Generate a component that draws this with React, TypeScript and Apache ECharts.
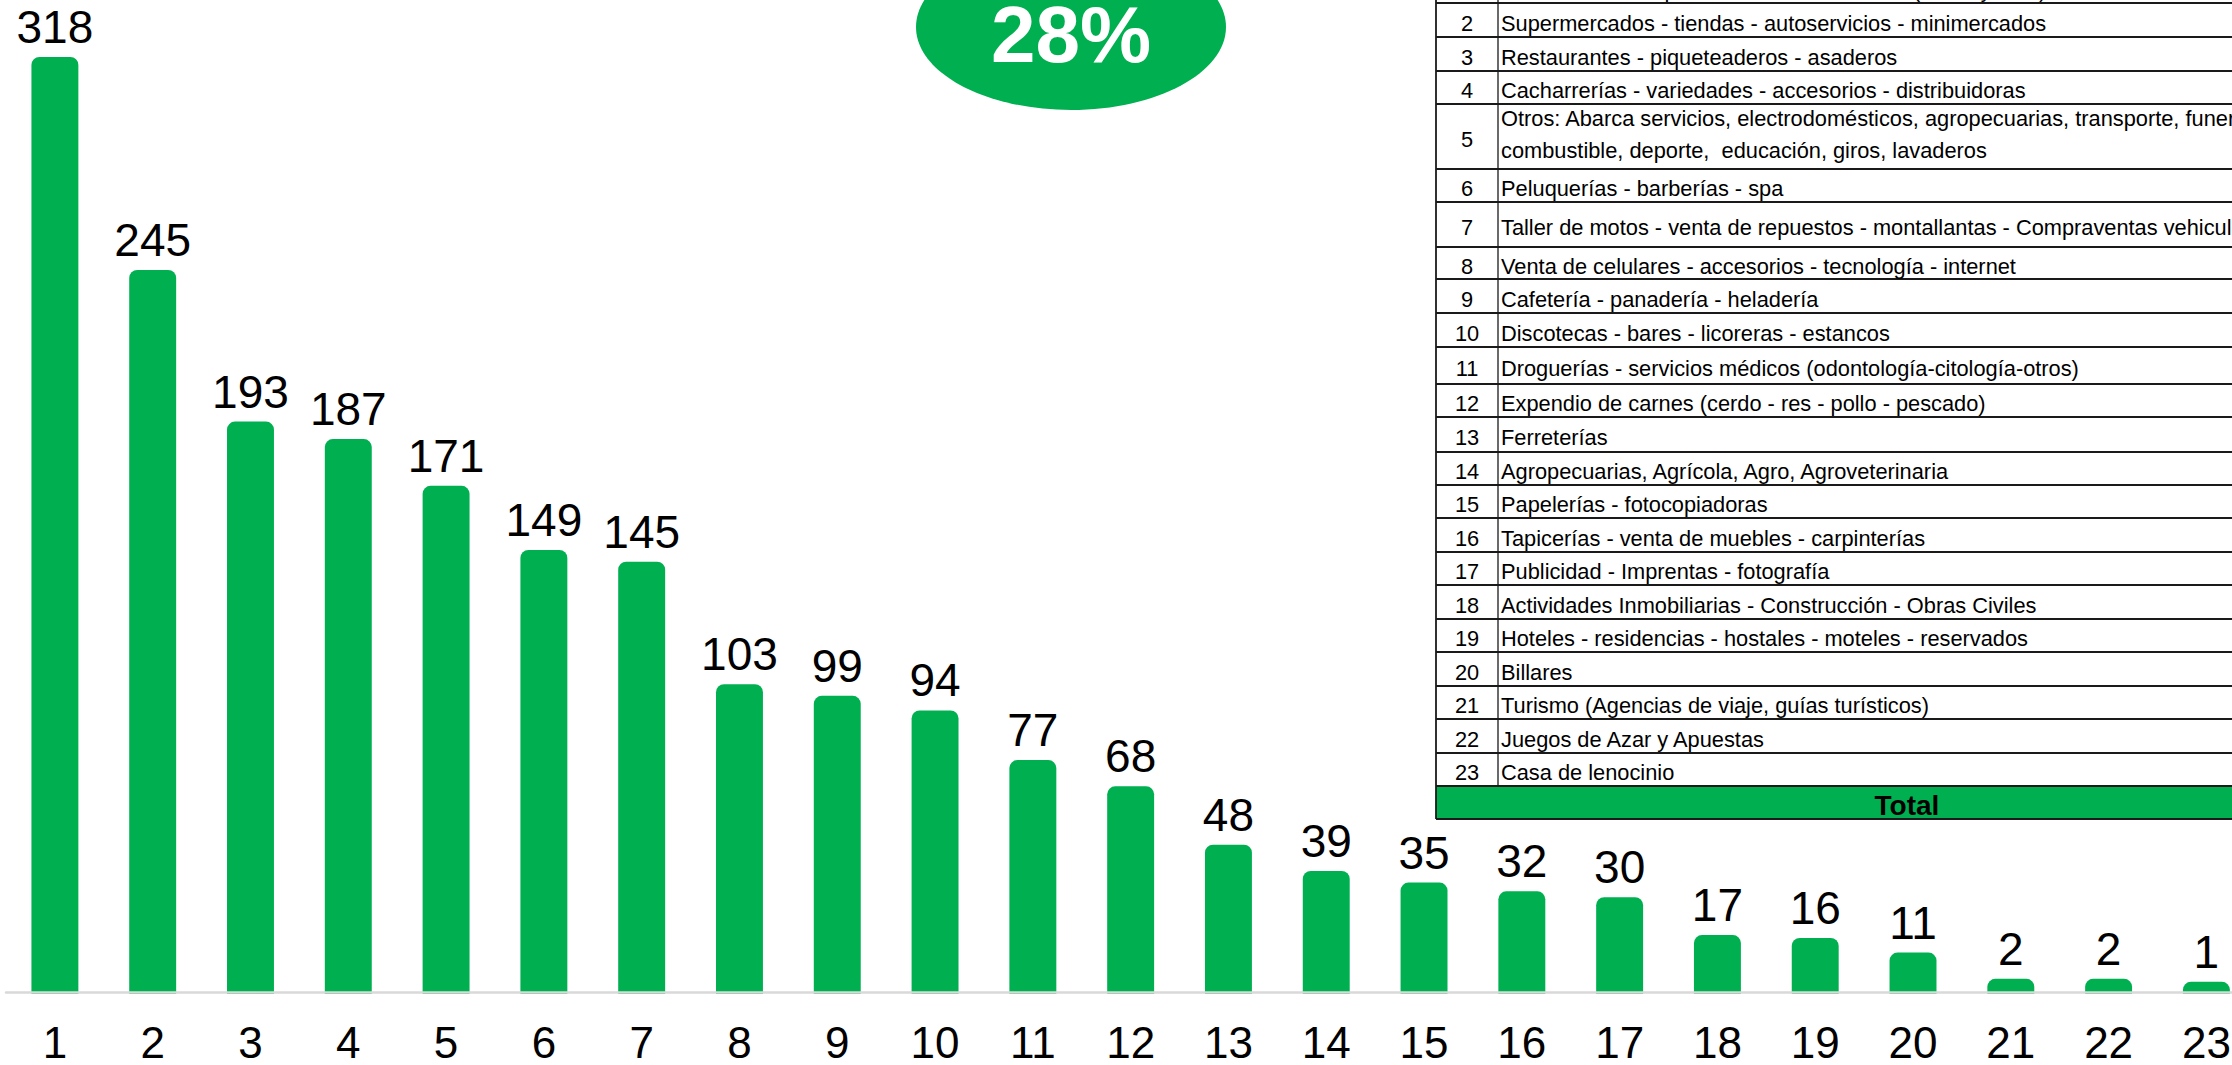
import React, { useEffect, useRef } from "react";
import * as echarts from "echarts";

// ---------- data ----------
const categories: string[] = [
  "1", "2", "3", "4", "5", "6", "7", "8", "9", "10", "11", "12",
  "13", "14", "15", "16", "17", "18", "19", "20", "21", "22", "23",
];
const counts: number[] = [
  318, 245, 193, 187, 171, 149, 145, 103, 99, 94, 77, 68,
  48, 39, 35, 32, 30, 17, 16, 11, 2, 2, 1,
];
const descriptions: string[] = [
  "Almacenes de ropa - calzado - accesorios (dama y niño)",
  "Supermercados - tiendas - autoservicios - minimercados",
  "Restaurantes - piqueteaderos - asaderos",
  "Cacharrerías - variedades - accesorios - distribuidoras",
  "Otros: Abarca servicios, electrodomésticos, agropecuarias, transporte, funerarias,\ncombustible, deporte,  educación, giros, lavaderos",
  "Peluquerías - barberías - spa",
  "Taller de motos - venta de repuestos - montallantas - Compraventas vehiculos",
  "Venta de celulares - accesorios - tecnología - internet",
  "Cafetería - panadería - heladería",
  "Discotecas - bares - licoreras - estancos",
  "Droguerías - servicios médicos (odontología-citología-otros)",
  "Expendio de carnes (cerdo - res - pollo - pescado)",
  "Ferreterías",
  "Agropecuarias, Agrícola, Agro, Agroveterinaria",
  "Papelerías - fotocopiadoras",
  "Tapicerías - venta de muebles - carpinterías",
  "Publicidad - Imprentas - fotografía",
  "Actividades Inmobiliarias - Construcción - Obras Civiles",
  "Hoteles - residencias - hostales - moteles - reservados",
  "Billares",
  "Turismo (Agencias de viaje, guías turísticos)",
  "Juegos de Azar y Apuestas",
  "Casa de lenocinio",
];
const totalLabel = "Total";
const highlightText = "28%";

// ---------- layout / style ----------
const GREEN = "#00B050";
const FONT = "'Liberation Sans', Arial, Helvetica, sans-serif";
const Y_MIN = -2.5;
const Y_MAX = 337.5;
// table row boundaries (pixels): 23 rows + total row
const ROW_EDGES = [
  -31, 3, 37, 71, 104, 169, 202, 247, 279, 313, 347, 384, 417, 452, 485,
  518, 552, 585, 619, 652, 686, 719, 753, 786, 819,
];
const T_LEFT = 1436;
const T_DIV = 1498;
const T_RIGHT = 2420;

function buildTable(): any[] {
  const els: any[] = [];
  const top = ROW_EDGES[0];
  const bottom = ROW_EDGES[ROW_EDGES.length - 1];
  const totalTop = ROW_EDGES[ROW_EDGES.length - 2];
  els.push({
    type: "rect",
    z: 20,
    shape: { x: T_LEFT, y: top, width: T_RIGHT - T_LEFT, height: bottom - top },
    style: { fill: "#ffffff" },
  });
  els.push({
    type: "rect",
    z: 21,
    shape: { x: T_LEFT, y: totalTop, width: T_RIGHT - T_LEFT, height: bottom - totalTop },
    style: { fill: GREEN },
  });
  ROW_EDGES.forEach((y) => {
    els.push({
      type: "line",
      z: 22,
      shape: { x1: T_LEFT, y1: y, x2: T_RIGHT, y2: y },
      style: { stroke: "#1a1a1a", lineWidth: 1.8 },
    });
  });
  els.push({
    type: "line",
    z: 22,
    shape: { x1: T_LEFT, y1: top, x2: T_LEFT, y2: bottom },
    style: { stroke: "#1a1a1a", lineWidth: 1.8 },
  });
  els.push({
    type: "line",
    z: 22,
    shape: { x1: T_DIV, y1: top, x2: T_DIV, y2: totalTop },
    style: { stroke: "#1a1a1a", lineWidth: 1.3 },
  });
  descriptions.forEach((d, i) => {
    const center = (ROW_EDGES[i] + ROW_EDGES[i + 1]) / 2;
    const multi = d.indexOf("\n") >= 0;
    const textY = multi ? center - 2 : center + 3;
    els.push({
      type: "text",
      z: 23,
      x: (T_LEFT + T_DIV) / 2,
      y: center + 3,
      style: {
        text: categories[i],
        fontSize: 21.8,
        fontFamily: FONT,
        fill: "#000",
        textAlign: "center",
        textVerticalAlign: "middle",
      },
    });
    els.push({
      type: "text",
      z: 23,
      x: T_DIV + 3,
      y: textY,
      style: {
        text: d,
        fontSize: 21.8,
        fontFamily: FONT,
        lineHeight: 32.5,
        fill: "#000",
        textAlign: "left",
        textVerticalAlign: "middle",
      },
    });
  });
  els.push({
    type: "text",
    z: 23,
    x: 1907,
    y: (totalTop + bottom) / 2 + 3,
    style: {
      text: totalLabel,
      fontSize: 28,
      fontWeight: "bold",
      fontFamily: FONT,
      fill: "#000",
      textAlign: "center",
      textVerticalAlign: "middle",
    },
  });
  return els;
}

export default function App() {
  const ref = useRef<HTMLDivElement>(null);
  useEffect(() => {
    if (!ref.current) return;
    const chart = echarts.init(ref.current, undefined, { renderer: "svg" });
    const option: any = {
      animation: false,
      backgroundColor: "#ffffff",
      grid: {
        left: 6,
        right: -23.3,
        top: 0,
        bottom: 73,
        containLabel: false,
        outerBoundsMode: "none",
      },
      xAxis: {
        type: "category",
        data: categories,
        axisLine: { onZero: false, lineStyle: { color: "#d9d9d9", width: 2.5 } },
        axisTick: { show: false },
        axisLabel: {
          fontSize: 44,
          lineHeight: 34,
          verticalAlign: "middle",
          margin: 50,
          color: "#000",
          fontFamily: FONT,
          interval: 0,
        },
        z: 5,
      },
      yAxis: {
        type: "value",
        min: Y_MIN,
        max: Y_MAX,
        show: false,
        splitLine: { show: false },
      },
      series: [
        {
          type: "custom",
          clip: false,
          data: counts.map((v, i) => [i, v]),
          renderItem: (params: any, api: any) => {
            const x = api.value(0);
            const v = api.value(1);
            const topPt = api.coord([x, v]);
            const basePt = api.coord([x, Y_MIN]);
            const w = api.size([1, 0])[0] * 0.48;
            return {
              type: "group",
              children: [
                {
                  type: "rect",
                  shape: {
                    x: topPt[0] - w / 2,
                    y: topPt[1],
                    width: w,
                    height: basePt[1] - topPt[1] + 2,
                    r: [8, 8, 0, 0],
                  },
                  style: { fill: GREEN },
                },
                {
                  type: "text",
                  x: topPt[0],
                  y: topPt[1] - 7,
                  style: {
                    text: String(v),
                    fontSize: 46,
                    fontFamily: FONT,
                    fill: "#000",
                    align: "center",
                    verticalAlign: "bottom",
                  },
                },
              ],
            };
          },
        },
      ],
      graphic: [
        {
          type: "ellipse",
          z: 10,
          shape: { cx: 1071, cy: 27, rx: 155, ry: 83 },
          style: { fill: GREEN },
        },
        {
          type: "text",
          z: 11,
          x: 1071,
          y: 34,
          style: {
            text: highlightText,
            fontSize: 80,
            lineHeight: 64,
            fontWeight: "bold",
            fontFamily: FONT,
            fill: "#ffffff",
            textAlign: "center",
            textVerticalAlign: "middle",
          },
        },
        ...buildTable(),
      ],
    };
    chart.setOption(option);
    return () => chart.dispose();
  }, []);
  return (
    <div
      ref={ref}
      style={{ position: "fixed", left: 0, top: 0, width: 2232, height: 1065, background: "#fff" }}
    />
  );
}
